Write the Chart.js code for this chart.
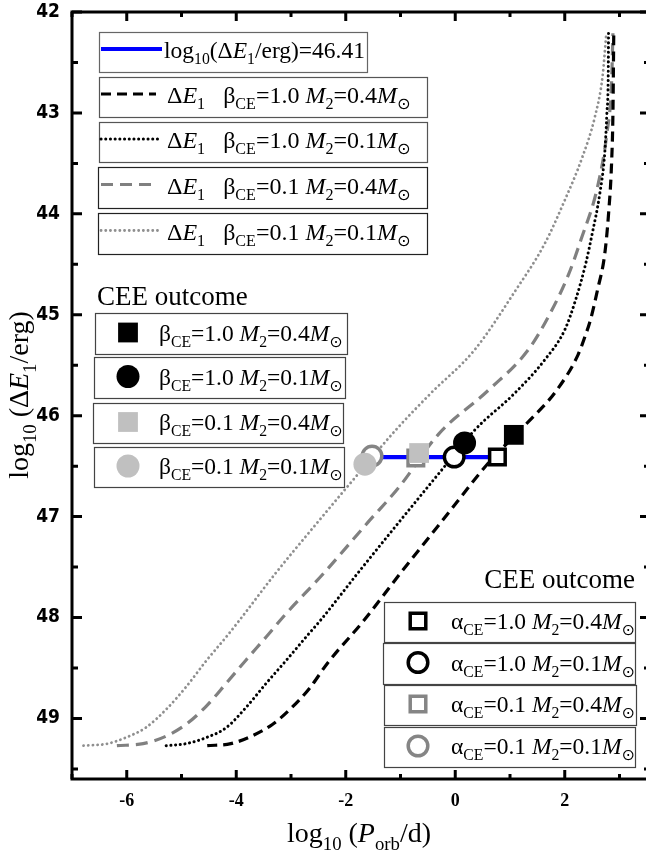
<!DOCTYPE html>
<html><head><meta charset="utf-8">
<script src="https://cdn.jsdelivr.net/npm/chart.js@4.4.1/dist/chart.umd.min.js"></script>
<style>html,body{margin:0;padding:0;background:#fff;overflow:hidden;}#wrap{width:646px;height:855px;overflow:hidden;position:relative;}</style>
</head><body><div id="wrap"><canvas id="c" width="650" height="855"></canvas></div>
<script>
// ---------- data ----------
const xMajorTicks = [-6, -4, -2, 0, 2];
const xMinorTicks = [-7, -5, -3, -1, 1, 3];
const yMajorTicks = [42, 43, 44, 45, 46, 47, 48, 49];
const yMinorTicks = [42.5, 43.5, 44.5, 45.5, 46.5, 47.5, 48.5, 49.5];

// beta_CE = 1.0, M2 = 0.4 (black dashed)
const b10m04X = [-4.53,-4.1,-3.7,-3.34,-3.0,-2.66,-2.33,-1.67,-1.0,-0.25,0.62,1.3,1.85,2.24,2.38,2.47,2.6,2.73,2.80,2.855,2.88,2.895];
const b10m04Y = [49.27,49.25,49.17,49.06,48.90,48.70,48.45,48.03,47.56,47.05,46.46,46.08,45.75,45.40,45.2,45.05,44.75,44.40,44.0,43.5,43.0,42.21];
// beta_CE = 1.0, M2 = 0.1 (black dotted)
const b10m01X = [-5.28,-4.92,-4.55,-4.18,-3.82,-3.45,-3.08,-2.72,-2.45,-1.78,-1.02,-0.25,0.36,1.08,1.63,2.0,2.2,2.38,2.5,2.64,2.73,2.77,2.795,2.80];
const b10m01Y = [49.27,49.25,49.19,49.09,48.89,48.65,48.42,48.19,48.02,47.56,47.05,46.54,46.14,45.78,45.45,45.15,44.85,44.5,44.2,43.8,43.4,43.0,42.6,42.21];
// beta_CE = 0.1, M2 = 0.4 (grey dashed)
const b01m04X = [-6.18,-5.7,-5.3,-4.92,-4.55,-4.18,-3.82,-3.45,-3.12,-2.4,-1.6,-1.03,-0.3,0.6,1.33,1.72,2.07,2.3,2.6,2.77,2.855,2.88];
const b01m04Y = [49.27,49.25,49.18,49.06,48.88,48.65,48.42,48.19,47.98,47.56,47.06,46.71,46.18,45.75,45.35,45.0,44.6,44.25,43.73,43.2,42.7,42.21];
// beta_CE = 0.1, M2 = 0.1 (grey dotted)
const b01m01X = [-6.79,-6.35,-6.02,-5.65,-5.28,-4.92,-4.55,-4.18,-3.96,-3.28,-2.52,-1.98,-1.05,-0.45,0.35,1.1,1.63,1.98,2.32,2.55,2.69,2.76];
const b01m01Y = [49.27,49.25,49.19,49.09,48.91,48.69,48.43,48.19,48.04,47.56,47.06,46.71,46.12,45.78,45.35,44.76,44.3,43.89,43.44,43.04,42.64,42.21];

// horizontal reference line log10(dE1/erg) = 46.41
const refLineX = [-1.52, 0.77];
const refLineY = [46.41, 46.41];

// CEE outcomes (beta: filled markers; alpha: open markers)
// order: [1.0/0.4, 1.0/0.1, 0.1/0.4, 0.1/0.1]
const betaOutX  = [1.07, 0.17, -0.66, -1.65];
const betaOutY  = [46.19, 46.27, 46.37, 46.48];
const alphaOutX = [0.77, -0.02, -0.72, -1.52];
const alphaOutY = [46.41, 46.41, 46.42, 46.40];

const pts = (xs, ys) => xs.map((x, i) => ({x, y: ys[i]}));

const SERIF = '"Liberation Serif","Times New Roman",serif';
const GREY_LINE = '#808080', GREY_DOT = '#8f8f8f', GREY_FILL = '#c0c0c0', GREY_OPEN = '#858585';

const curveStyles = [
  {data: pts(b10m04X, b10m04Y), color: '#000', dash: [10, 6], width: 3.2, cap: 'butt'},
  {data: pts(b10m01X, b10m01Y), color: '#000', dash: [0.1, 4.6], width: 3, cap: 'round'},
  {data: pts(b01m04X, b01m04Y), color: GREY_LINE, dash: [12, 7], width: 3.2, cap: 'butt'},
  {data: pts(b01m01X, b01m01Y), color: GREY_DOT, dash: [0.1, 4.6], width: 2.8, cap: 'round'}
];

const markerStyles = [
  {style: 'rect', r: 14, fill: '#000', stroke: '#000', bw: 0},
  {style: 'circle', r: 11.5, fill: '#000', stroke: '#000', bw: 0},
  {style: 'rect', r: 14, fill: GREY_FILL, stroke: GREY_FILL, bw: 0},
  {style: 'circle', r: 11.5, fill: GREY_FILL, stroke: GREY_FILL, bw: 0}
];
const openStyles = [
  {style: 'rect', r: 11, fill: '#fff', stroke: '#000', bw: 3.5},
  {style: 'circle', r: 9.8, fill: '#fff', stroke: '#000', bw: 3.5},
  {style: 'rect', r: 11, fill: '#fff', stroke: GREY_OPEN, bw: 3.5},
  {style: 'circle', r: 9.8, fill: '#fff', stroke: GREY_OPEN, bw: 3.5}
];

const datasets = [];
markerStyles.forEach((m, i) => datasets.push({
  data: [{x: betaOutX[i], y: betaOutY[i]}], showLine: false, order: 1,
  pointStyle: m.style, pointRadius: m.r, pointBackgroundColor: m.fill, pointBorderColor: m.stroke, pointBorderWidth: m.bw
}));
openStyles.forEach((m, i) => datasets.push({
  data: [{x: alphaOutX[i], y: alphaOutY[i]}], showLine: false, order: 2,
  pointStyle: m.style, pointRadius: m.r, pointBackgroundColor: m.fill, pointBorderColor: m.stroke, pointBorderWidth: m.bw
}));
datasets.push({data: pts(refLineX, refLineY), showLine: true, pointRadius: 0, borderColor: '#0000ff', borderWidth: 4.2, order: 3});
curveStyles.forEach((c, i) => datasets.push({
  data: c.data, showLine: true, pointRadius: 0, borderColor: c.color, borderWidth: c.width,
  borderDash: c.dash, borderCapStyle: c.cap, cubicInterpolationMode: 'monotone', order: 4 + i
}));

// ---------- rich text helper ----------
function drawRich(ctx, segs, x, y, size, align) {
  const parts = segs.map(([t, st]) => {
    const sub = st.includes('s'), it = st.includes('i'), sym = st.includes('o');
    const fs = sub ? size * 0.67 : size;
    const fam = sym ? '"DejaVu Sans",sans-serif' : SERIF;
    const font = (it ? 'italic ' : '') + fs + 'px ' + fam;
    ctx.font = font;
    return {t, font, w: ctx.measureText(t).width, dy: sub ? size * 0.27 : 0};
  });
  const total = parts.reduce((a, p) => a + p.w, 0);
  let cx = align === 'right' ? x - total : align === 'center' ? x - total / 2 : x;
  ctx.textAlign = 'left'; ctx.textBaseline = 'alphabetic';
  parts.forEach(p => { ctx.font = p.font; ctx.fillText(p.t, cx, y + p.dy); cx += p.w; });
}

const sun = ['\u2299', 'so'];
const dE = [['\u0394', ''], ['E', 'i'], ['1', 's']];
const topLegend = [
  {line: {color: '#0000ff', dash: [], width: 4.2, cap: 'butt'}, box: [99, 32, 367, 72], lx: [101, 162], tx: 164, fs: 23.5, border: '#666',
   text: [['log', ''], ['10', 's'], ['(\u0394', ''], ['E', 'i'], ['1', 's'], ['/erg)=46.41', '']]},
  {line: curveStyles[0], box: [99, 77, 427, 117], lx: [101, 156], tx: 167, fs: 24, border: '#555',
   text: [...dE, ['   \u03b2', ''], ['CE', 's'], ['=1.0 ', ''], ['M', 'i'], ['2', 's'], ['=0.4', ''], ['M', 'i'], sun]},
  {line: curveStyles[1], box: [99, 122, 427, 162], lx: [101, 158], tx: 167, fs: 24, border: '#555',
   text: [...dE, ['   \u03b2', ''], ['CE', 's'], ['=1.0 ', ''], ['M', 'i'], ['2', 's'], ['=0.1', ''], ['M', 'i'], sun]},
  {line: curveStyles[2], box: [98, 167, 427, 208], lx: [101, 156], tx: 167, fs: 24, border: '#222',
   text: [...dE, ['   \u03b2', ''], ['CE', 's'], ['=0.1 ', ''], ['M', 'i'], ['2', 's'], ['=0.4', ''], ['M', 'i'], sun]},
  {line: curveStyles[3], box: [98, 213, 427, 254], lx: [101, 158], tx: 167, fs: 24, border: '#222',
   text: [...dE, ['   \u03b2', ''], ['CE', 's'], ['=0.1 ', ''], ['M', 'i'], ['2', 's'], ['=0.1', ''], ['M', 'i'], sun]}
];
const outLabel = (g, a, m) => [[g, ''], ['CE', 's'], ['=' + a + ' ', ''], ['M', 'i'], ['2', 's'], ['=' + m, ''], ['M', 'i'], sun];
const betaLegend = [
  {box: [95, 313, 347, 354], mk: markerStyles[0], text: outLabel('\u03b2', '1.0', '0.4')},
  {box: [94, 357, 345, 398], mk: markerStyles[1], text: outLabel('\u03b2', '1.0', '0.1')},
  {box: [93, 403, 343, 443], mk: markerStyles[2], text: outLabel('\u03b2', '0.1', '0.4')},
  {box: [94, 447, 344, 487], mk: markerStyles[3], text: outLabel('\u03b2', '0.1', '0.1')}
];
const alphaLegend = [
  {box: [384, 602, 635, 642], mk: openStyles[0], text: outLabel('\u03b1', '1.0', '0.4')},
  {box: [383, 643, 635, 684], mk: openStyles[1], text: outLabel('\u03b1', '1.0', '0.1')},
  {box: [384, 685, 636, 725], mk: openStyles[2], text: outLabel('\u03b1', '0.1', '0.4')},
  {box: [384, 727, 635, 767], mk: openStyles[3], text: outLabel('\u03b1', '0.1', '0.1')}
];

function drawBox(ctx, b, col) {
  ctx.save(); ctx.fillStyle = '#fff'; ctx.fillRect(b[0], b[1], b[2] - b[0], b[3] - b[1]);
  ctx.strokeStyle = col || '#444'; ctx.lineWidth = 1.2; ctx.setLineDash([]);
  ctx.strokeRect(b[0] + 0.5, b[1] + 0.5, b[2] - b[0], b[3] - b[1]); ctx.restore();
}
function drawMarker(ctx, m, x, y) {
  ctx.save(); ctx.fillStyle = m.fill; ctx.strokeStyle = m.stroke; ctx.lineWidth = m.bw; ctx.setLineDash([]);
  Chart.helpers.drawPoint(ctx, {pointStyle: m.style, radius: m.r, borderWidth: m.bw, rotation: 0}, x, y);
  ctx.restore();
}

const framePlugin = {
  id: 'frame',
  afterDraw(chart) {
    const {ctx, chartArea: a, scales: {x, y}} = chart;
    ctx.save();
    ctx.strokeStyle = '#000'; ctx.lineCap = 'butt';
    const tick = (vals, len, w) => {
      ctx.lineWidth = w;
      vals.forEach(v => {
        const px = x.getPixelForValue(v);
        ctx.beginPath(); ctx.moveTo(px, a.bottom); ctx.lineTo(px, a.bottom - len);
        ctx.moveTo(px, a.top); ctx.lineTo(px, a.top + len); ctx.stroke();
      });
    };
    const ytick = (vals, len, w) => {
      ctx.lineWidth = w;
      vals.forEach(v => {
        const py = y.getPixelForValue(v);
        ctx.beginPath(); ctx.moveTo(a.left, py); ctx.lineTo(a.left + len, py);
        ctx.moveTo(a.right, py); ctx.lineTo(a.right - len, py); ctx.stroke();
      });
    };
    tick(xMajorTicks, 9, 3); tick(xMinorTicks, 5, 3);
    ytick(yMajorTicks, 10, 3); ytick(yMinorTicks, 6, 3);
    ctx.lineWidth = 3;
    ctx.strokeRect(a.left, a.top, a.right - a.left, a.bottom - a.top);

    ctx.fillStyle = '#000';
    topLegend.forEach(l => {
      drawBox(ctx, l.box, l.border);
      const cy = (l.box[1] + l.box[3]) / 2 - 3;
      ctx.save(); ctx.strokeStyle = l.line.color; ctx.lineWidth = l.line.width; ctx.setLineDash(l.line.dash);
      ctx.lineCap = l.line.cap; ctx.beginPath(); ctx.moveTo(l.lx[0], cy); ctx.lineTo(l.lx[1], cy); ctx.stroke(); ctx.restore();
      ctx.fillStyle = '#000';
      drawRich(ctx, l.text, l.tx, cy + 9, l.fs, 'left');
    });
    ctx.font = '27px ' + SERIF; ctx.textAlign = 'left'; ctx.textBaseline = 'alphabetic';
    ctx.fillText('CEE outcome', 97, 305);
    betaLegend.forEach(l => {
      drawBox(ctx, l.box);
      const cy = (l.box[1] + l.box[3]) / 2;
      drawMarker(ctx, l.mk, 128, cy - 1);
      ctx.fillStyle = '#000';
      drawRich(ctx, l.text, 159, cy + 7, 23.5, 'left');
    });
    ctx.font = '27px ' + SERIF; ctx.textAlign = 'right';
    ctx.fillText('CEE outcome', 635, 588);
    alphaLegend.forEach(l => {
      drawBox(ctx, l.box);
      const cy = (l.box[1] + l.box[3]) / 2;
      drawMarker(ctx, l.mk, 418, cy - 1);
      ctx.fillStyle = '#000';
      drawRich(ctx, l.text, 451, cy + 7, 23.5, 'left');
    });

    ctx.fillStyle = '#000';
    drawRich(ctx, [['log', ''], ['10', 's'], [' (', ''], ['P', 'i'], ['orb', 's'], ['/d)', '']], 359, 842, 28, 'center');
    ctx.save(); ctx.translate(28, 395); ctx.rotate(-Math.PI / 2);
    drawRich(ctx, [['log', ''], ['10', 's'], [' (\u0394', ''], ['E', 'i'], ['1', 's'], ['/erg)', '']], 0, 0, 28, 'center');
    ctx.restore();
    ctx.restore();
  }
};

const zeroPad = s => { s.paddingLeft = 0; s.paddingRight = 0; s.paddingTop = 0; s.paddingBottom = 0; };

new Chart(document.getElementById('c'), {
  type: 'scatter',
  data: {datasets},
  options: {
    responsive: false, animation: false, devicePixelRatio: 1,
    layout: {autoPadding: false, padding: {top: 12, right: 0, left: 0, bottom: 0}},
    plugins: {legend: {display: false}, tooltip: {enabled: false}},
    elements: {line: {tension: 0}},
    scales: {
      x: {
        type: 'linear', min: -7, max: 3.557,
        grid: {display: false, drawTicks: false}, border: {display: false},
        ticks: {color: '#000', padding: 12, font: {family: SERIF, size: 18, weight: 'bold'}},
        afterBuildTicks: s => { s.ticks = xMajorTicks.map(v => ({value: v})); },
        afterFit: s => { s.height = 76; zeroPad(s); }
      },
      y: {
        type: 'linear', min: 42, max: 49.6, reverse: true,
        grid: {display: false, drawTicks: false}, border: {display: false},
        ticks: {color: '#000', padding: 12, font: {family: '"Liberation Sans Narrow","DejaVu Sans Condensed","Liberation Sans",sans-serif', size: 19, weight: 'bold'}},
        afterBuildTicks: s => { s.ticks = yMajorTicks.map(v => ({value: v})); },
        afterFit: s => { s.width = 72; zeroPad(s); }
      }
    }
  },
  plugins: [framePlugin]
});
</script></body></html>
